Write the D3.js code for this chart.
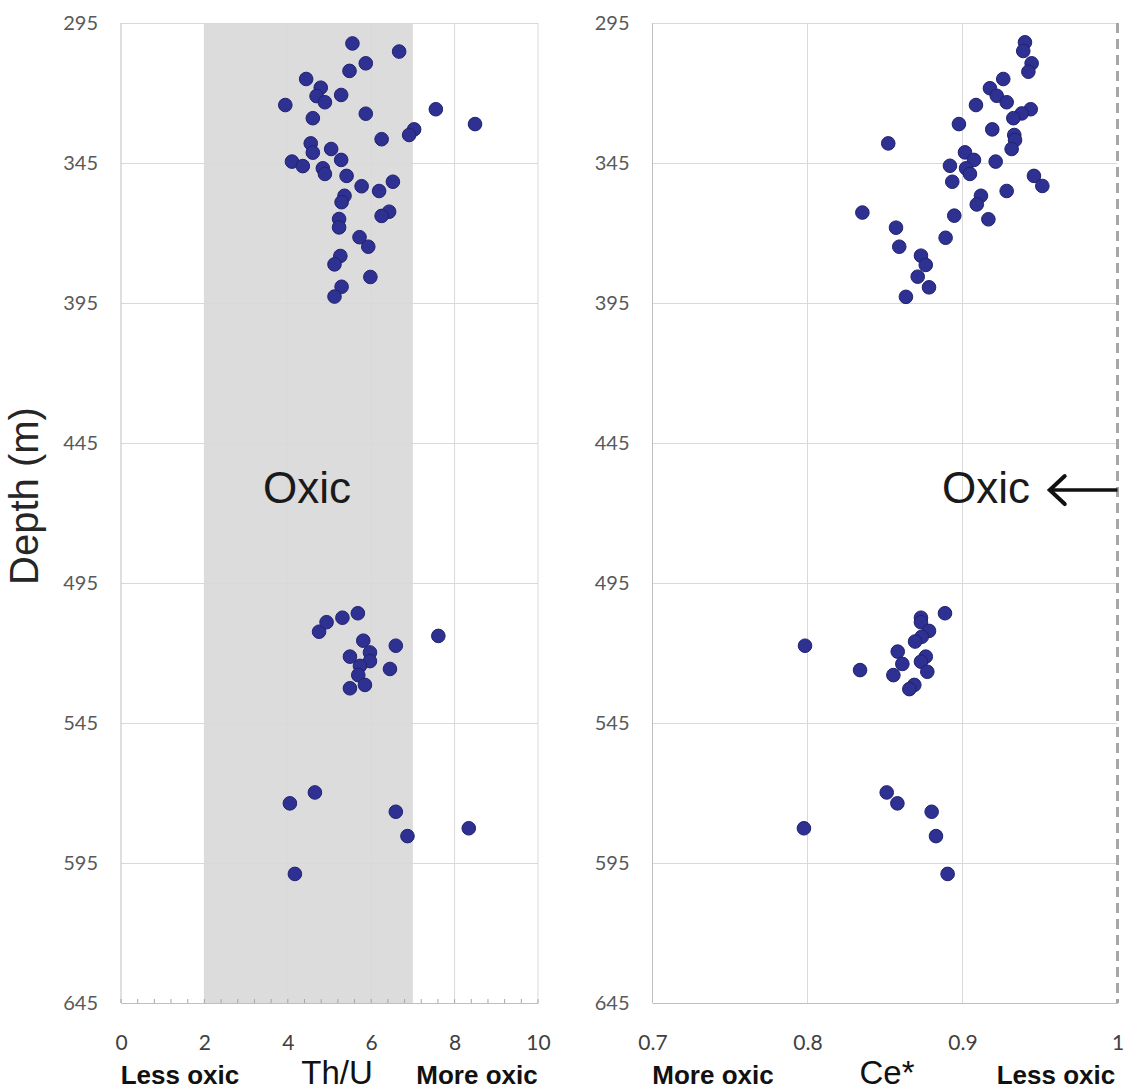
<!DOCTYPE html>
<html><head><meta charset="utf-8">
<script src="https://cdn.jsdelivr.net/npm/d3@7"></script>
<style>body{margin:0;background:#fff}svg{display:block}</style>
</head><body>
<script>
// ---- data ----
const depthTicks = [295,345,395,445,495,545,595,645];
const thuTicks = [0,2,4,6,8,10];
const ceTicks = [0.7,0.8,0.9,1];
const thuOxicBand = [2,7];
const thuVal = [5.55,6.67,5.87,5.48,4.44,4.79,4.69,4.89,5.28,3.94,5.87,7.55,8.49,4.60,7.03,6.91,6.25,4.55,4.60,5.04,5.28,4.10,4.36,4.84,4.89,5.41,6.52,5.77,6.19,5.36,5.29,6.43,6.25,5.23,5.23,5.72,5.93,5.26,5.12,5.98,5.29,5.12,
 4.75,4.93,5.31,5.68,7.61,5.81,6.59,5.97,5.49,5.97,5.73,6.45,5.69,5.49,5.85,
 4.05,4.65,6.59,6.87,8.34,4.17];
const thuDepth = [302.3,305.2,309.4,312.1,315,318.1,321.1,323.3,320.7,324.3,327.4,325.8,331.1,329,333,335,336.5,338,341.3,340,343.9,344.5,346.1,346.9,348.9,349.6,351.7,353.3,355,356.7,359,362.4,363.9,365,368,371.5,374.9,378.2,381.2,385.7,389.2,392.7,
 512.4,509,507.4,505.8,513.9,515.6,517.4,519.8,521.3,522.9,524.6,525.7,527.9,532.6,531.4,
 573.7,569.8,576.7,585.4,582.6,598.9];
const ceVal = [0.9403,0.9392,0.9446,0.9425,0.9263,0.9177,0.9221,0.9285,0.9087,0.9440,0.9382,0.9328,0.8977,0.9192,0.9334,0.9339,0.8521,0.9317,0.9016,0.9074,0.9214,0.8919,0.9023,0.9048,0.9461,0.9515,0.8934,0.9285,0.9119,0.9092,0.8354,0.9167,0.8947,0.8571,0.8891,0.8592,0.8732,0.8763,0.8711,0.8784,0.8635,
 0.7984,0.8887,0.8732,0.8732,0.8784,0.8737,0.8694,0.8582,0.8763,0.8612,0.8732,0.8339,0.8773,0.8554,0.8689,0.8657,
 0.7977,0.8511,0.8580,0.8801,0.8829,0.8904];
const ceDepth = [301.9,305,309.4,312.4,315,318.3,321,323.3,324.3,325.8,327.3,329,331.1,333,335,336.8,338,340,341.2,343.9,344.5,346,346.9,348.9,349.6,353.2,351.7,355,356.7,359.8,362.7,365.1,363.8,368.1,371.7,374.9,378.1,381.4,385.6,389.4,392.8,
 517.4,505.8,507.4,509,512.1,514.2,515.9,519.5,521.3,523.9,523.1,526.1,526.7,527.9,531.4,532.9,
 582.6,569.8,573.7,576.7,585.4,598.9];

// ---- layout ----
const W = 1126, H = 1091;
const svg = d3.select("body").append("svg").attr("width", W).attr("height", H);
const y = d3.scaleLinear().domain([295,645]).range([23,1003]);
const xL = d3.scaleLinear().domain([0,10]).range([121,538]);
const xR = d3.scaleLinear().domain([0.7,1.0]).range([652.5,1117.5]);
const tickFont = "Lato, 'Open Sans', sans-serif";
const gridCol = "#d9d9d9";
const dotFill = "#2e3192";

function panel(x, ticks, fmt, minor, vals, depths, isRight) {
  const g = svg.append("g");
  const [x0,x1] = x.range();
  if (!isRight) {
    g.append("rect").attr("x", x(thuOxicBand[0])).attr("y", y(295))
      .attr("width", x(thuOxicBand[1]) - x(thuOxicBand[0])).attr("height", y(645) - y(295))
      .attr("fill", "#dcdcdd");
  }
  const gy = g.append("g").attr("transform", `translate(${x0},0)`)
    .call(d3.axisLeft(y).tickValues(depthTicks).tickSize(-(x1 - x0)).tickFormat(d3.format("d")).tickPadding(23));
  gy.select(".domain").remove();
  gy.selectAll(".tick line").attr("stroke", gridCol);
  gy.selectAll(".tick text").attr("font-family", tickFont).attr("font-size", 20).attr("fill", "#595959");
  const vt = isRight ? ticks.slice(1, -1) : ticks.slice(1);
  g.append("g").selectAll("line").data(vt).join("line")
    .attr("x1", d => x(d)).attr("x2", d => x(d)).attr("y1", y(295)).attr("y2", y(645))
    .attr("stroke", gridCol);
  g.append("line").attr("x1", x0).attr("x2", x0).attr("y1", y(295)).attr("y2", y(645)).attr("stroke", "#bfbfbf");
  const gx = g.append("g").attr("transform", `translate(0,${y(645)})`)
    .call(d3.axisBottom(x).tickValues(ticks).tickSize(0).tickFormat(fmt).tickPadding(32));
  gx.select(".domain").attr("stroke", "#bfbfbf");
  gx.selectAll(".tick text").attr("font-family", tickFont).attr("font-size", 21).attr("fill", "#404040");
  if (minor) {
    g.append("g").selectAll("line").data(d3.range(0, 10.001, 0.4)).join("line")
      .attr("x1", d => x(d)).attr("x2", d => x(d)).attr("y1", y(645) - 4).attr("y2", y(645))
      .attr("stroke", "#a6a6a6");
  }
  if (isRight) {
    g.append("line").attr("x1", x(1)).attr("x2", x(1)).attr("y1", y(295)).attr("y2", y(645))
      .attr("stroke", "#a6a6a6").attr("stroke-width", 3).attr("stroke-dasharray", "10,6");
  }
  g.append("g").selectAll("circle").data(vals.map((v,i) => [v, depths[i]])).join("circle")
    .attr("cx", d => x(d[0])).attr("cy", d => y(d[1])).attr("r", 6.8)
    .attr("fill", dotFill).attr("stroke", "#20226e").attr("stroke-width", 1);
  return g;
}

panel(xL, thuTicks, d3.format("d"), true, thuVal, thuDepth, false);
panel(xR, ceTicks, d => d === 1 ? "1" : d3.format(".1f")(d), false, ceVal, ceDepth, true);

// annotations
const ann = "'Liberation Sans', Arial, sans-serif";
svg.append("text").attr("x", xL(4.46)).attr("y", y(466.4)).attr("text-anchor", "middle")
  .attr("font-family", ann).attr("font-size", 44).attr("fill", "#1a1a1a").text("Oxic");
svg.append("text").attr("x", xR(0.9435)).attr("y", y(466.4)).attr("text-anchor", "end")
  .attr("font-family", ann).attr("font-size", 44).attr("fill", "#1a1a1a").text("Oxic");
const ay = y(461.8), ax0 = xR(0.955), ax1 = xR(1.0);
svg.append("line").attr("x1", ax0 + 2).attr("x2", ax1).attr("y1", ay).attr("y2", ay).attr("stroke", "#111").attr("stroke-width", 3.5);
svg.append("path").attr("d", `M${ax0 + 17},${ay - 14} L${ax0 + 2},${ay} L${ax0 + 17},${ay + 14}`)
  .attr("fill", "none").attr("stroke", "#111").attr("stroke-width", 4).attr("stroke-linecap", "round");

// axis titles
svg.append("text").attr("transform", `translate(38,496) rotate(-90)`).attr("text-anchor", "middle")
  .attr("font-family", ann).attr("font-size", 40).attr("fill", "#262626").text("Depth (m)");
const by = 1084;
function lbl(x, t, bold, size) {
  svg.append("text").attr("x", x).attr("y", by).attr("text-anchor", "middle")
    .attr("font-family", ann).attr("font-size", size).attr("font-weight", bold ? "bold" : "normal")
    .attr("fill", "#111").text(t);
}
lbl(180, "Less oxic", true, 26);
lbl(337, "Th/U", false, 33);
lbl(477, "More oxic", true, 26);
lbl(713, "More oxic", true, 26);
lbl(887, "Ce*", false, 33);
lbl(1056, "Less oxic", true, 26);
</script>
</body></html>
